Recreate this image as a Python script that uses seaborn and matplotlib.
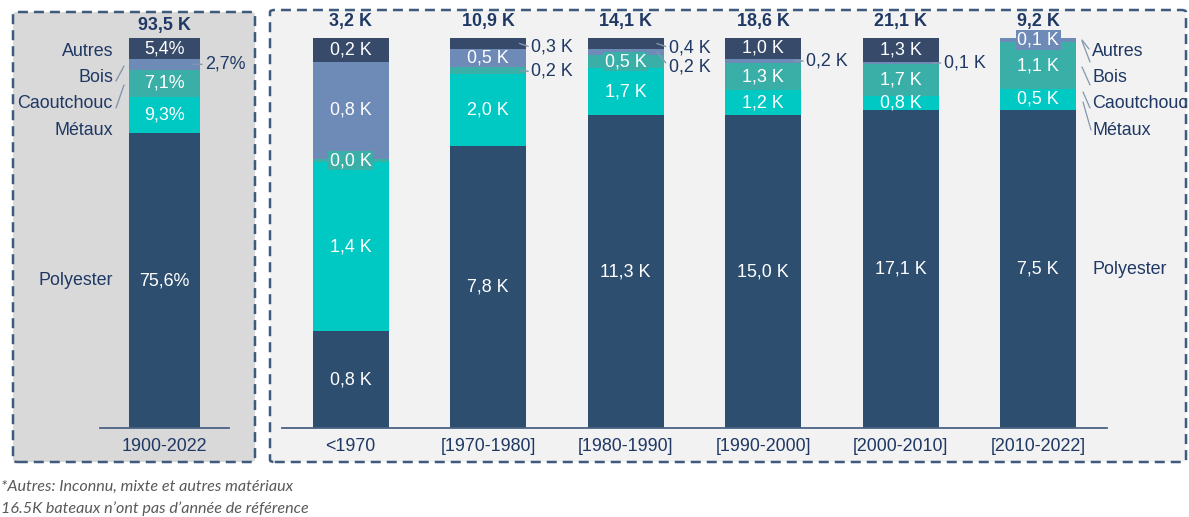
import numpy as np
import pandas as pd
import matplotlib
matplotlib.use("Agg")
import matplotlib.pyplot as plt
import seaborn as sns
from matplotlib.patches import FancyBboxPatch
from matplotlib.lines import Line2D

# ---------------- data ----------------
materials = ["Polyester", "Métaux", "Caoutchouc", "Bois", "Autres"]  # bottom -> top

overall_period = ["1900-2022"]
overall_total_k = [93.5]
overall_polyester_pct = [75.6]
overall_metaux_pct = [9.3]
overall_caoutchouc_pct = [7.1]
overall_bois_pct = [2.7]
overall_autres_pct = [5.4]

periods = ["<1970", "[1970-1980]", "[1980-1990]", "[1990-2000]", "[2000-2010]", "[2010-2022]"]
period_total_k = [3.2, 10.9, 14.1, 18.6, 21.1, 9.2]
polyester_k = [0.8, 7.8, 11.3, 15.0, 17.1, 7.5]
metaux_k = [1.4, 2.0, 1.7, 1.2, 0.8, 0.5]
caoutchouc_k = [0.03, 0.2, 0.5, 1.3, 1.7, 1.1]
bois_k = [0.8, 0.5, 0.2, 0.2, 0.1, 0.1]
autres_k = [0.2, 0.3, 0.4, 1.0, 1.3, 0.0]

footnotes = ["*Autres: Inconnu, mixte et autres matériaux",
             "16.5K bateaux n\u2019ont pas d\u2019année de référence"]

# ---------------- style ----------------
colors = {"Polyester": "#2E4E70", "Métaux": "#00C8C3", "Caoutchouc": "#3AAFA8",
          "Bois": "#6E8BB8", "Autres": "#374A6A"}
NAVY = "#1F3864"
BORDER = "#3E5A7C"
LEADER = "#8497B0"
FS = 12.9
BAR_W = 0.555

sns.set_style("white")
plt.rcParams["font.family"] = ["Liberation Sans", "DejaVu Sans"]

W, H = 1189, 517
fig = plt.figure(figsize=(W / 100, H / 100), dpi=100)


def fx(x):
    return x / W


def fy(y):
    return 1 - y / H


# panels
for (x0, y0, x1, y1, fc) in [(13, 12, 255, 462, "#D9D9D9"), (270, 10, 1186, 462, "#F2F2F2")]:
    p = FancyBboxPatch((fx(x0), fy(y1)), fx(x1) - fx(x0), fy(y0) - fy(y1),
                       boxstyle="round,pad=0,rounding_size=0.004",
                       transform=fig.transFigure, facecolor=fc, edgecolor=BORDER,
                       linewidth=1.8, linestyle=(0, (4, 2.4)), zorder=-5)
    fig.patches.append(p)

axL = fig.add_axes([fx(100), fy(428), fx(229) - fx(100), fy(38) - fy(428)])
axR = fig.add_axes([fx(282), fy(428), fx(1107) - fx(282), fy(38) - fy(428)])


def draw_stack(ax, cats, series, totals, labeler, outside, boxed, px_per_unit, total_gap):
    df = pd.DataFrame(series, index=cats)[materials]
    frac = df.div(df.sum(axis=1), axis=0)
    cum = frac.cumsum(axis=1)
    for m in reversed(materials):
        d = pd.DataFrame({"cat": cats, "h": cum[m].values})
        sns.barplot(data=d, x="cat", y="h", order=cats, color=colors[m], saturation=1,
                    width=BAR_W, errorbar=None, ax=ax, linewidth=0)
    ax.set_facecolor("none")
    ax.set_ylim(0, 1)
    ax.set_xlim(-0.5, len(cats) - 0.5)
    ax.set(xlabel="", ylabel="", yticks=[])
    for s in ["top", "left", "right"]:
        ax.spines[s].set_visible(False)
    ax.spines["bottom"].set_color("#4A6283")
    ax.spines["bottom"].set_linewidth(1.3)
    ax.tick_params(axis="x", length=0, pad=7, labelsize=FS, labelcolor=NAVY)
    edge_in = 7 / px_per_unit
    for i, c in enumerate(cats):
        ax.text(i, 1 + total_gap / 390, totals[i], ha="center", va="center", fontsize=FS,
                fontweight="bold", color=NAVY)
        for m in materials:
            v = df.loc[c, m]
            if v <= 0:
                continue
            mid = cum.loc[c, m] - frac.loc[c, m] / 2
            txt = labeler(v)
            if (i, m) in outside:
                dy = outside[(i, m)]
                ax.annotate(txt, xy=(i + BAR_W / 2 - edge_in, mid), xytext=(12, -dy),
                            textcoords="offset pixels", ha="left", va="center",
                            fontsize=FS, color=NAVY,
                            arrowprops=dict(arrowstyle="-", color=LEADER, lw=1.0,
                                            shrinkA=0, shrinkB=0, relpos=(0, 0.5)))
            else:
                bb = None
                if (i, m) in boxed:
                    bb = dict(boxstyle="square,pad=0.08", fc=colors[m], ec="none")
                ax.text(i, mid, txt, ha="center", va="center", fontsize=FS, color="white",
                        bbox=bb)
    return cum, frac


def fmt_k(v):
    return f"{v:.1f}".replace(".", ",") + " K"


def fmt_pct(v):
    return f"{v:.1f}".replace(".", ",") + "%"


left_series = {"Polyester": overall_polyester_pct, "Métaux": overall_metaux_pct,
               "Caoutchouc": overall_caoutchouc_pct, "Bois": overall_bois_pct,
               "Autres": overall_autres_pct}
cumL, fracL = draw_stack(axL, overall_period, left_series,
                         [fmt_k(t) for t in overall_total_k], fmt_pct,
                         {(0, "Bois"): 0}, set(), 129, 12.5)

right_series = {"Polyester": polyester_k, "Métaux": metaux_k, "Caoutchouc": caoutchouc_k,
                "Bois": bois_k, "Autres": autres_k}
outside_right = {(1, "Autres"): 4, (1, "Caoutchouc"): 1, (2, "Autres"): 4,
                 (2, "Bois"): 15, (3, "Bois"): 0, (4, "Bois"): 0}
boxed_right = {(0, "Caoutchouc"), (2, "Caoutchouc"), (5, "Bois")}
cumR, fracR = draw_stack(axR, periods, right_series,
                         [fmt_k(t) for t in period_total_k], fmt_k, outside_right,
                         boxed_right, 137.5, 16.5)

# category labels, left panel
for name, y in zip(["Autres", "Bois", "Caoutchouc", "Métaux"], [51, 77, 104, 130]):
    fig.text(fx(113), fy(y), name, ha="right", va="center", fontsize=FS, color=NAVY)
fig.add_artist(Line2D([fx(116), fx(124)], [fy(81), fy(66)], color=LEADER, lw=1.0))
fig.add_artist(Line2D([fx(116), fx(124)], [fy(108), fy(85)], color=LEADER, lw=1.0))
midL = cumL.iloc[0]["Polyester"] - fracL.iloc[0]["Polyester"] / 2
axL.text(-0.5 + 13 / 129, midL, "Polyester", ha="right", va="center", fontsize=FS, color=NAVY)

# category labels, right panel
for name, y in zip(["Autres", "Bois", "Caoutchouc", "Métaux"], [51, 77, 104, 130]):
    fig.text(fx(1092), fy(y), name, ha="left", va="center", fontsize=FS, color=NAVY)
for (x0, y0, x1, y1) in [(1082, 40, 1089, 49), (1082, 41, 1090, 62), (1082, 67, 1090, 85),
                         (1083, 92, 1090, 108), (1083, 102, 1091, 130)]:
    fig.add_artist(Line2D([fx(x0), fx(x1)], [fy(y0), fy(y1)], color=LEADER, lw=0.9))
midR = cumR.iloc[-1]["Polyester"] - fracR.iloc[-1]["Polyester"] / 2
axR.text(-0.5 + (1092 - 282) / 137.5, midR, "Polyester", ha="left", va="center",
         fontsize=FS, color=NAVY)

# footnotes
for txt, y in zip(footnotes, [487, 509]):
    fig.text(fx(1), fy(y), txt, ha="left", va="center", fontsize=11.6, style="italic",
             color="#595959", family=["Lato", "DejaVu Sans"])

fig.savefig("out.png", dpi=100)
